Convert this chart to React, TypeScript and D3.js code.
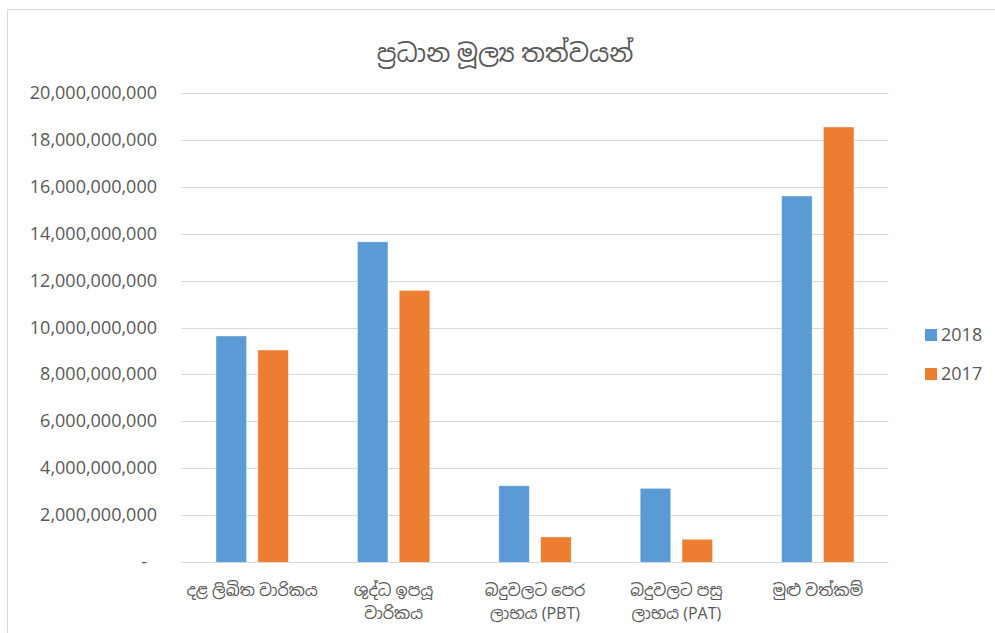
import { useEffect, useRef } from "react";
import * as d3 from "d3";

const categories = [
  ["දළ ලිඛිත වාරිකය"],
  ["ශුද්ධ ඉපයූ", "වාරිකය"],
  ["බදුවලට පෙර", "ලාභය (PBT)"],
  ["බදුවලට පසු", "ලාභය (PAT)"],
  ["මුළු වත්කම්"],
];
const series2018 = [9.64e9, 13.65e9, 3.26e9, 3.15e9, 15.6e9];
const series2017 = [9.04e9, 11.58e9, 1.08e9, 0.98e9, 18.54e9];
const seriesNames = ["2018", "2017"];
const yTicks = d3.range(0, 20e9 + 1, 2e9);

const W = 995;
const H = 633;
const COLORS = ["#5B9BD5", "#ED7D31"];
const FONT = "'Open Sans', 'Noto Sans Sinhala', 'Noto Sans', sans-serif";

export default function App() {
  const svgRef = useRef<SVGSVGElement>(null);

  useEffect(() => {
    if (!svgRef.current) return;
    const svg = d3.select(svgRef.current);
    svg.selectAll("*").remove();

    const left = 181.5;
    const right = 888.5;
    const top = 92.7;
    const bottom = 562.3;

    svg
      .append("rect")
      .attr("x", 7.5)
      .attr("y", 9.5)
      .attr("width", W + 10)
      .attr("height", H + 10)
      .attr("fill", "#fff")
      .attr("stroke", "#d9d9d9");

    const x = d3
      .scaleBand<number>()
      .domain(d3.range(categories.length))
      .range([left, right]);
    const inner = d3
      .scaleBand<number>()
      .domain([0, 1])
      .range([34.5, x.bandwidth() - 34.5])
      .paddingInner(0.27);
    const y = d3.scaleLinear().domain([0, 20e9]).range([bottom, top]);

    // gridlines
    svg
      .append("g")
      .selectAll("line")
      .data(yTicks)
      .join("line")
      .attr("x1", left)
      .attr("x2", right)
      .attr("y1", (d) => Math.round(y(d)) + 0.5)
      .attr("y2", (d) => Math.round(y(d)) + 0.5)
      .attr("stroke", "#d9d9d9")
      .attr("stroke-width", 1);

    // y labels
    const fmt = d3.format(",");
    svg
      .append("g")
      .selectAll("text")
      .data(yTicks)
      .join("text")
      .attr("x", (d) => (d === 0 ? 147 : 157))
      .attr("y", (d) => y(d) + 6)
      .attr("text-anchor", "end")
      .attr("fill", "#595959")
      .attr("font-family", FONT)
      .attr("font-size", 18)
      .text((d) => (d === 0 ? "-" : fmt(d)));

    // bars
    const allSeries = [series2018, series2017];
    allSeries.forEach((vals, si) => {
      svg
        .append("g")
        .selectAll("rect")
        .data(vals)
        .join("rect")
        .attr("x", (_, i) => (x(i) ?? 0) + (inner(si) ?? 0))
        .attr("y", (d) => y(d))
        .attr("width", inner.bandwidth())
        .attr("height", (d) => bottom - y(d))
        .attr("fill", COLORS[si])
        .attr("stroke", "#fff")
        .attr("stroke-opacity", 0.5)
        .attr("stroke-width", 0.8);
    });

    // x labels
    const xl = svg.append("g");
    categories.forEach((lines, i) => {
      const t = xl
        .append("text")
        .attr("x", (x(i) ?? 0) + x.bandwidth() / 2)
        .attr("y", 596)
        .attr("text-anchor", "middle")
        .attr("fill", "#595959")
        .attr("font-family", FONT)
        .attr("font-size", 16);
      lines.forEach((ln, li) => {
        t.append("tspan")
          .attr("x", (x(i) ?? 0) + x.bandwidth() / 2)
          .attr("dy", li === 0 ? 0 : 23)
          .text(ln);
      });
    });

    // title
    svg
      .append("text")
      .attr("x", 505)
      .attr("y", 62)
      .attr("text-anchor", "middle")
      .attr("fill", "#595959")
      .attr("font-family", FONT)
      .attr("font-size", 25)
      .text("ප්‍රධාන මූල්‍ය තත්වයන්");

    // legend
    const lg = svg.append("g");
    seriesNames.forEach((name, i) => {
      const ly = 329 + i * 39;
      lg.append("rect")
        .attr("x", 925)
        .attr("y", ly)
        .attr("width", 12)
        .attr("height", 12)
        .attr("fill", COLORS[i]);
      lg.append("text")
        .attr("x", 941)
        .attr("y", ly + 12)
        .attr("fill", "#595959")
        .attr("font-family", FONT)
        .attr("font-size", 18)
        .text(name);
    });
  }, []);

  return (
    <div style={{ position: "absolute", left: 0, top: 0 }}>
      <svg ref={svgRef} width={W} height={H} style={{ display: "block" }} />
    </div>
  );
}
